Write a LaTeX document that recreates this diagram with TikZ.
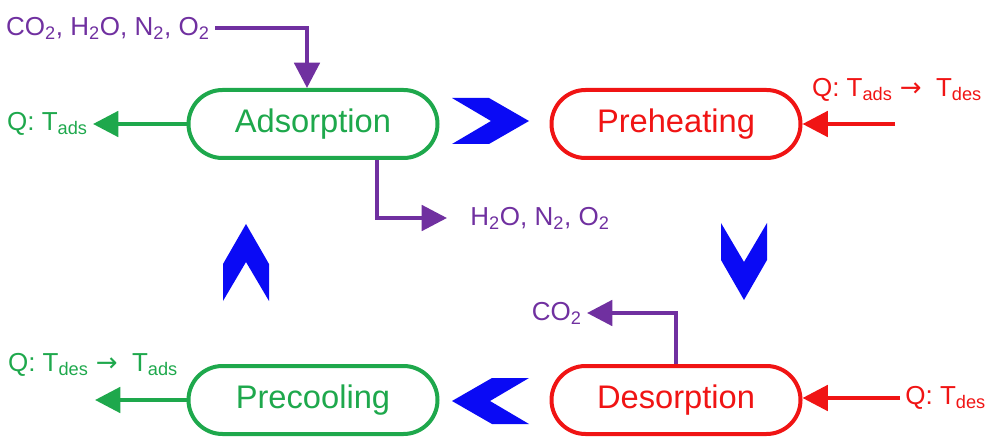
\documentclass[tikz,border=0pt]{standalone}
\usepackage{fontspec}
\setmainfont{Liberation Sans}
\newfontfamily\arrowfont{DejaVu Sans}
\usepackage{tikz}
\usetikzlibrary{arrows.meta,calc}
\definecolor{cyclegreen}{HTML}{1EA84C}
\definecolor{cyclered}{HTML}{F01414}
\definecolor{gaspurple}{HTML}{7030A0}
\definecolor{cycleblue}{HTML}{0A0AF5}
\newcommand{\toarrow}{{\arrowfont →}}
\tikzset{
  % One pill per step of the cycle; cold steps green, hot steps red.
  stage/.style     = {draw, line width=3pt, rounded corners=25.5pt,
                      minimum width=186.75pt, minimum height=51pt,
                      inner sep=0pt, font=\fontsize{24.5pt}{28pt}\selectfont},
  coldstage/.style = {stage, draw=cyclegreen, text=cyclegreen},
  hotstage/.style  = {stage, draw=cyclered, text=cyclered},
  flowtext/.style  = {inner sep=0pt, outer sep=4pt,
                      font=\fontsize{19.5pt}{23pt}\selectfont},
  flow/.style      = {line width=3pt, -{Triangle[length=19pt, width=19pt]}},
  gasflow/.style   = {flow, gaspurple},
  coolflow/.style  = {flow, cyclegreen},
  heatflow/.style  = {flow, cyclered},
  chevron/.style   = {fill=cycleblue},
}

\begin{document}
\begin{tikzpicture}[x=0.75pt, y=-0.75pt]
    \useasboundingbox (0,0) rectangle (992,445);

    \node[coldstage] (ads)  at (313,124) {Adsorption};
    \node[hotstage]  (pre)  at (676,124) {Preheating};
    \node[hotstage]  (des)  at (676,400) {Desorption};
    \node[coldstage] (cool) at (313,400) {Precooling};

    % Big blue chevrons walk the cycle clockwise.
    \foreach \cx/\cy/\ang in {452/121/0, 744/223/-90, 529/401/180, 246/301/90}
        \fill[chevron, shift={(\cx,\cy)}, rotate=\ang]
            (0,-23) -- (37,-23) -- (77,0) -- (37,23) -- (0,23) -- (39,0) -- cycle;

    % Gas streams
    \node[flowtext, gaspurple, anchor=east] (feed) at (215,28)
        {CO\textsubscript{2}, H\textsubscript{2}O, N\textsubscript{2}, O\textsubscript{2}};
    \node[flowtext, gaspurple, anchor=west] (waste) at (465,218)
        {H\textsubscript{2}O, N\textsubscript{2}, O\textsubscript{2}};
    \node[flowtext, gaspurple, anchor=east] (co2) at (587,313) {CO\textsubscript{2}};

    \draw[gasflow] (feed.east) -| ([xshift=-4.5pt]ads.north);
    \draw[gasflow] ($(ads.south)+(64,0)$) |- ($(waste.west)+(-18,0)$);
    \draw[gasflow] (des.north) |- (co2.east);

    % Heat streams
    \node[flowtext, cyclegreen, anchor=east] (qads) at (93,124) {Q: T\textsubscript{ads}};
    \node[flowtext, cyclered] (qpre) at (897,90) {Q: T\textsubscript{ads} \toarrow~~T\textsubscript{des}};
    \node[flowtext, cyclered, anchor=west] (qdes) at (900,398) {Q: T\textsubscript{des}};
    \node[flowtext, cyclegreen] (qcool) at (93,365) {Q: T\textsubscript{des} \toarrow~~T\textsubscript{ads}};
    \coordinate (prein)   at (895,124);
    \coordinate (coolout) at (95,400);

    \draw[coolflow] (ads.west) -- (qads.east);
    \draw[heatflow] (prein) -- (pre.east);
    \draw[heatflow] (qdes.west) -- (des.east |- qdes.west);
    \draw[coolflow] (cool.west) -- (coolout);
\end{tikzpicture}
\end{document}
